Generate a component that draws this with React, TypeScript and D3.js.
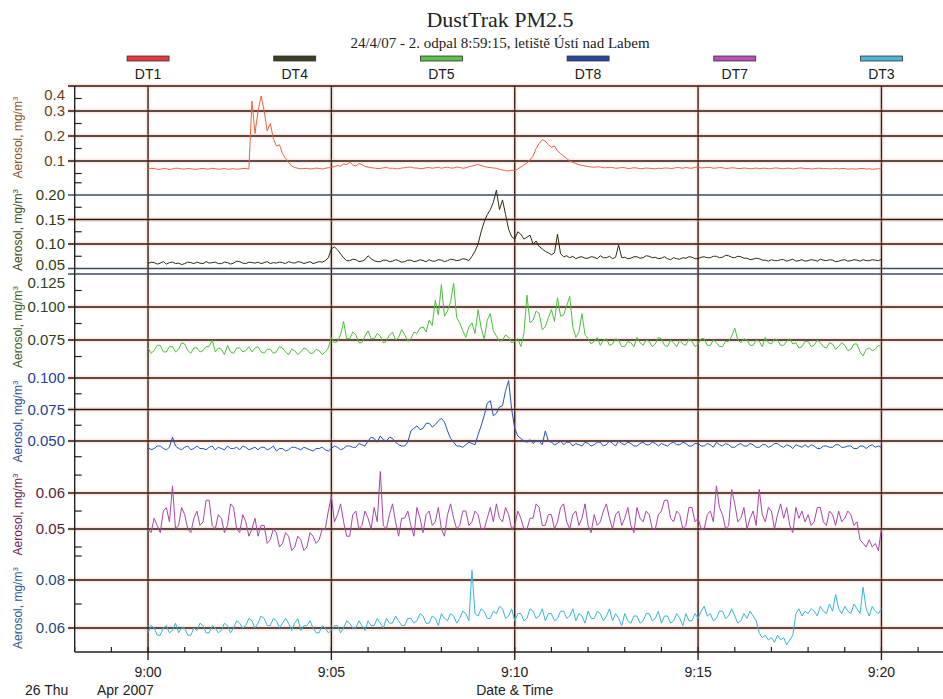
import React from "react";
import * as d3 from "d3";

const WIDTH = 943;
const HEIGHT = 699;

// DustTrak readings, one value every 5 s from 9:00:00 to 9:20:00 (mg/m3),
// one row per minute, last value is 9:20:00
const START = new Date(2007, 3, 26, 9, 0, 0);
const STEP_MS = 5000;

const dt1 = [
  0.068, 0.071, 0.070, 0.067, 0.067, 0.070, 0.069, 0.066, 0.068, 0.071, 0.071, 0.068,
  0.068, 0.070, 0.069, 0.067, 0.067, 0.069, 0.070, 0.068, 0.068, 0.071, 0.069, 0.067,
  0.068, 0.070, 0.067, 0.068, 0.069, 0.067, 0.068, 0.070, 0.070, 0.068, 0.34, 0.21,
  0.30, 0.36, 0.30, 0.22, 0.25, 0.19, 0.16, 0.165, 0.13, 0.11, 0.095, 0.08,
  0.074, 0.071, 0.069, 0.070, 0.071, 0.068, 0.069, 0.072, 0.070, 0.068, 0.071, 0.073,
  0.074, 0.078, 0.082, 0.079, 0.088, 0.085, 0.096, 0.084, 0.080, 0.090, 0.086, 0.078,
  0.076, 0.073, 0.072, 0.070, 0.070, 0.073, 0.074, 0.071, 0.071, 0.069, 0.069, 0.072,
  0.073, 0.075, 0.076, 0.072, 0.072, 0.069, 0.070, 0.073, 0.074, 0.071, 0.073, 0.075,
  0.071, 0.074, 0.075, 0.072, 0.072, 0.076, 0.074, 0.071, 0.073, 0.077, 0.080, 0.083,
  0.086, 0.082, 0.078, 0.075, 0.074, 0.072, 0.071, 0.067, 0.064, 0.062, 0.060, 0.063,
  0.062, 0.068, 0.076, 0.085, 0.092, 0.105, 0.12, 0.15, 0.17, 0.185, 0.18, 0.165,
  0.155, 0.16, 0.14, 0.13, 0.12, 0.11, 0.10, 0.095, 0.09, 0.085, 0.082, 0.080,
  0.078, 0.076, 0.075, 0.077, 0.076, 0.073, 0.073, 0.075, 0.074, 0.071, 0.072, 0.074,
  0.073, 0.070, 0.071, 0.073, 0.072, 0.069, 0.070, 0.072, 0.071, 0.070, 0.069, 0.071,
  0.070, 0.072, 0.072, 0.070, 0.071, 0.074, 0.073, 0.071, 0.074, 0.072, 0.071, 0.075,
  0.076, 0.072, 0.073, 0.075, 0.074, 0.071, 0.072, 0.074, 0.073, 0.070, 0.071, 0.073,
  0.072, 0.070, 0.070, 0.072, 0.071, 0.069, 0.070, 0.072, 0.069, 0.071, 0.071, 0.069,
  0.070, 0.072, 0.072, 0.070, 0.069, 0.071, 0.071, 0.068, 0.070, 0.072, 0.072, 0.069,
  0.070, 0.068, 0.069, 0.071, 0.071, 0.069, 0.070, 0.068, 0.069, 0.071, 0.068, 0.070,
  0.070, 0.067, 0.069, 0.068, 0.068, 0.070, 0.070, 0.068, 0.069, 0.067, 0.068, 0.069,
  0.068,
];

const dt4 = [
  0.060, 0.063, 0.062, 0.059, 0.061, 0.064, 0.059, 0.062, 0.063, 0.060, 0.061, 0.058,
  0.060, 0.063, 0.062, 0.060, 0.063, 0.061, 0.060, 0.064, 0.061, 0.062, 0.063, 0.060,
  0.060, 0.063, 0.062, 0.059, 0.061, 0.065, 0.064, 0.061, 0.060, 0.063, 0.062, 0.061,
  0.063, 0.060, 0.062, 0.064, 0.060, 0.062, 0.061, 0.063, 0.062, 0.060, 0.064, 0.062,
  0.061, 0.064, 0.063, 0.060, 0.062, 0.064, 0.060, 0.062, 0.064, 0.063, 0.066, 0.072,
  0.090, 0.094, 0.088, 0.080, 0.072, 0.066, 0.066, 0.069, 0.068, 0.064, 0.065, 0.068,
  0.076, 0.070, 0.066, 0.064, 0.064, 0.067, 0.067, 0.064, 0.065, 0.068, 0.066, 0.063,
  0.064, 0.067, 0.067, 0.064, 0.065, 0.068, 0.066, 0.064, 0.068, 0.065, 0.065, 0.068,
  0.067, 0.064, 0.066, 0.069, 0.068, 0.066, 0.067, 0.070, 0.069, 0.066, 0.075, 0.085,
  0.10, 0.125, 0.145, 0.16, 0.17, 0.185, 0.21, 0.17, 0.19, 0.16, 0.13, 0.115,
  0.11, 0.125, 0.12, 0.11, 0.114, 0.118, 0.10, 0.106, 0.095, 0.09, 0.085, 0.082,
  0.078, 0.082, 0.12, 0.080, 0.074, 0.076, 0.072, 0.075, 0.070, 0.073, 0.074, 0.071,
  0.071, 0.074, 0.073, 0.070, 0.076, 0.072, 0.072, 0.075, 0.070, 0.073, 0.098, 0.072,
  0.073, 0.070, 0.071, 0.074, 0.074, 0.071, 0.072, 0.076, 0.075, 0.072, 0.073, 0.070,
  0.071, 0.074, 0.070, 0.068, 0.072, 0.070, 0.069, 0.072, 0.071, 0.074, 0.073, 0.070,
  0.070, 0.073, 0.074, 0.072, 0.072, 0.075, 0.075, 0.072, 0.073, 0.077, 0.076, 0.073,
  0.072, 0.075, 0.074, 0.071, 0.071, 0.068, 0.069, 0.071, 0.070, 0.067, 0.067, 0.065,
  0.068, 0.066, 0.066, 0.068, 0.068, 0.065, 0.067, 0.069, 0.065, 0.066, 0.068, 0.065,
  0.066, 0.068, 0.067, 0.065, 0.069, 0.067, 0.066, 0.068, 0.067, 0.064, 0.065, 0.067,
  0.068, 0.065, 0.066, 0.068, 0.067, 0.065, 0.068, 0.066, 0.066, 0.068, 0.067, 0.066,
  0.069,
];

const dt5 = [
  0.069, 0.065, 0.067, 0.071, 0.071, 0.066, 0.066, 0.070, 0.070, 0.066, 0.068, 0.073,
  0.072, 0.067, 0.065, 0.069, 0.069, 0.066, 0.067, 0.070, 0.070, 0.075, 0.066, 0.069,
  0.068, 0.064, 0.071, 0.066, 0.065, 0.069, 0.069, 0.066, 0.067, 0.070, 0.066, 0.069,
  0.070, 0.066, 0.065, 0.068, 0.068, 0.065, 0.066, 0.070, 0.069, 0.066, 0.064, 0.068,
  0.067, 0.064, 0.066, 0.069, 0.068, 0.065, 0.065, 0.068, 0.067, 0.064, 0.066, 0.069,
  0.077, 0.073, 0.074, 0.079, 0.089, 0.076, 0.076, 0.081, 0.079, 0.073, 0.073, 0.078,
  0.082, 0.076, 0.076, 0.080, 0.078, 0.073, 0.074, 0.079, 0.081, 0.075, 0.077, 0.083,
  0.079, 0.074, 0.076, 0.081, 0.080, 0.084, 0.085, 0.081, 0.090, 0.086, 0.105, 0.094,
  0.117, 0.093, 0.097, 0.104, 0.118, 0.092, 0.088, 0.082, 0.077, 0.085, 0.088, 0.080,
  0.098, 0.084, 0.076, 0.090, 0.095, 0.082, 0.078, 0.074, 0.075, 0.079, 0.077, 0.073,
  0.074, 0.076, 0.070, 0.080, 0.109, 0.088, 0.090, 0.097, 0.095, 0.083, 0.085, 0.092,
  0.098, 0.089, 0.107, 0.093, 0.094, 0.101, 0.108, 0.085, 0.077, 0.081, 0.095, 0.079,
  0.076, 0.072, 0.074, 0.077, 0.071, 0.075, 0.076, 0.071, 0.072, 0.076, 0.075, 0.070,
  0.070, 0.074, 0.073, 0.070, 0.077, 0.073, 0.071, 0.075, 0.074, 0.070, 0.072, 0.077,
  0.076, 0.071, 0.070, 0.075, 0.073, 0.070, 0.075, 0.072, 0.071, 0.076, 0.074, 0.070,
  0.072, 0.076, 0.076, 0.071, 0.071, 0.075, 0.073, 0.070, 0.070, 0.074, 0.074, 0.078,
  0.084, 0.075, 0.073, 0.076, 0.075, 0.071, 0.071, 0.075, 0.074, 0.070, 0.077, 0.073,
  0.072, 0.076, 0.075, 0.071, 0.071, 0.074, 0.076, 0.072, 0.073, 0.069, 0.070, 0.074,
  0.074, 0.070, 0.071, 0.075, 0.073, 0.070, 0.069, 0.073, 0.072, 0.068, 0.070, 0.073,
  0.071, 0.067, 0.068, 0.072, 0.072, 0.066, 0.063, 0.068, 0.069, 0.067, 0.068, 0.071,
  0.070,
];

const dt8 = [
  0.045, 0.043, 0.044, 0.046, 0.046, 0.044, 0.043, 0.045, 0.053, 0.046, 0.044, 0.043,
  0.045, 0.046, 0.043, 0.044, 0.046, 0.044, 0.044, 0.043, 0.045, 0.046, 0.043, 0.045,
  0.044, 0.043, 0.046, 0.044, 0.044, 0.045, 0.043, 0.046, 0.045, 0.043, 0.044, 0.045,
  0.043, 0.045, 0.045, 0.043, 0.044, 0.046, 0.042, 0.044, 0.044, 0.042, 0.043, 0.045,
  0.045, 0.044, 0.043, 0.045, 0.044, 0.043, 0.042, 0.044, 0.044, 0.045, 0.043, 0.042,
  0.044, 0.046, 0.045, 0.043, 0.044, 0.046, 0.046, 0.045, 0.045, 0.048, 0.047, 0.046,
  0.050, 0.053, 0.052, 0.049, 0.054, 0.051, 0.050, 0.053, 0.052, 0.049, 0.047, 0.046,
  0.046, 0.049, 0.058, 0.060, 0.062, 0.059, 0.060, 0.064, 0.064, 0.061, 0.063, 0.066,
  0.068, 0.065, 0.058, 0.052, 0.049, 0.046, 0.046, 0.045, 0.047, 0.049, 0.048, 0.047,
  0.055, 0.062, 0.070, 0.080, 0.082, 0.070, 0.072, 0.077, 0.078, 0.090, 0.098, 0.075,
  0.060, 0.054, 0.052, 0.050, 0.049, 0.051, 0.048, 0.050, 0.050, 0.047, 0.058, 0.050,
  0.049, 0.047, 0.048, 0.050, 0.047, 0.049, 0.049, 0.046, 0.048, 0.047, 0.046, 0.049,
  0.048, 0.046, 0.047, 0.049, 0.049, 0.046, 0.047, 0.050, 0.048, 0.046, 0.050, 0.048,
  0.047, 0.049, 0.048, 0.046, 0.046, 0.048, 0.049, 0.047, 0.047, 0.049, 0.048, 0.046,
  0.048, 0.047, 0.046, 0.048, 0.049, 0.047, 0.047, 0.049, 0.048, 0.046, 0.046, 0.048,
  0.048, 0.046, 0.046, 0.048, 0.047, 0.045, 0.049, 0.047, 0.046, 0.048, 0.047, 0.045,
  0.045, 0.047, 0.048, 0.046, 0.046, 0.048, 0.047, 0.045, 0.045, 0.047, 0.047, 0.045,
  0.046, 0.048, 0.048, 0.046, 0.045, 0.047, 0.046, 0.044, 0.047, 0.046, 0.045, 0.047,
  0.045, 0.047, 0.046, 0.044, 0.044, 0.046, 0.046, 0.045, 0.045, 0.047, 0.047, 0.045,
  0.045, 0.046, 0.046, 0.044, 0.044, 0.046, 0.046, 0.044, 0.046, 0.047, 0.045, 0.046,
  0.045,
];

const dt7 = [
  0.050, 0.049, 0.053, 0.051, 0.049, 0.055, 0.056, 0.052, 0.062, 0.050, 0.051, 0.056,
  0.054, 0.050, 0.049, 0.053, 0.055, 0.051, 0.052, 0.058, 0.058, 0.051, 0.050, 0.054,
  0.053, 0.049, 0.051, 0.057, 0.056, 0.050, 0.049, 0.054, 0.052, 0.048, 0.050, 0.053,
  0.048, 0.051, 0.051, 0.046, 0.047, 0.050, 0.049, 0.045, 0.046, 0.049, 0.048, 0.044,
  0.045, 0.048, 0.047, 0.044, 0.045, 0.049, 0.048, 0.046, 0.047, 0.050, 0.050, 0.055,
  0.059, 0.052, 0.054, 0.057, 0.052, 0.048, 0.048, 0.054, 0.055, 0.050, 0.051, 0.055,
  0.053, 0.050, 0.056, 0.052, 0.066, 0.051, 0.050, 0.054, 0.057, 0.052, 0.048, 0.053,
  0.053, 0.055, 0.051, 0.048, 0.056, 0.053, 0.049, 0.054, 0.055, 0.051, 0.052, 0.056,
  0.050, 0.048, 0.054, 0.057, 0.053, 0.050, 0.051, 0.055, 0.055, 0.051, 0.052, 0.055,
  0.054, 0.050, 0.050, 0.053, 0.056, 0.052, 0.057, 0.053, 0.052, 0.056, 0.054, 0.050,
  0.051, 0.055, 0.053, 0.050, 0.050, 0.053, 0.053, 0.057, 0.056, 0.051, 0.051, 0.054,
  0.054, 0.050, 0.052, 0.056, 0.057, 0.052, 0.050, 0.054, 0.055, 0.051, 0.053, 0.057,
  0.051, 0.049, 0.054, 0.051, 0.052, 0.055, 0.057, 0.053, 0.050, 0.054, 0.055, 0.051,
  0.053, 0.056, 0.051, 0.049, 0.056, 0.053, 0.052, 0.055, 0.054, 0.050, 0.050, 0.054,
  0.055, 0.058, 0.058, 0.053, 0.052, 0.055, 0.054, 0.050, 0.051, 0.056, 0.056, 0.052,
  0.053, 0.050, 0.050, 0.054, 0.055, 0.052, 0.062, 0.056, 0.054, 0.050, 0.051, 0.061,
  0.057, 0.052, 0.053, 0.056, 0.050, 0.053, 0.055, 0.051, 0.061, 0.054, 0.052, 0.056,
  0.055, 0.050, 0.054, 0.057, 0.053, 0.056, 0.051, 0.049, 0.056, 0.053, 0.055, 0.052,
  0.054, 0.051, 0.052, 0.056, 0.056, 0.052, 0.051, 0.055, 0.054, 0.051, 0.055, 0.052,
  0.053, 0.055, 0.054, 0.051, 0.052, 0.047, 0.046, 0.045, 0.047, 0.045, 0.046, 0.044,
  0.050,
];

const dt3 = [
  0.058, 0.061, 0.060, 0.057, 0.057, 0.060, 0.061, 0.058, 0.059, 0.062, 0.058, 0.060,
  0.060, 0.057, 0.057, 0.060, 0.059, 0.062, 0.061, 0.058, 0.058, 0.061, 0.060, 0.058,
  0.059, 0.062, 0.061, 0.058, 0.060, 0.063, 0.062, 0.060, 0.061, 0.064, 0.063, 0.060,
  0.062, 0.065, 0.064, 0.061, 0.061, 0.064, 0.063, 0.060, 0.062, 0.064, 0.062, 0.059,
  0.062, 0.064, 0.059, 0.061, 0.061, 0.063, 0.060, 0.058, 0.058, 0.061, 0.060, 0.058,
  0.059, 0.061, 0.061, 0.058, 0.060, 0.063, 0.062, 0.060, 0.060, 0.063, 0.061, 0.059,
  0.063, 0.061, 0.061, 0.064, 0.062, 0.060, 0.064, 0.062, 0.062, 0.065, 0.063, 0.061,
  0.061, 0.064, 0.064, 0.062, 0.063, 0.066, 0.065, 0.062, 0.062, 0.065, 0.064, 0.061,
  0.066, 0.064, 0.063, 0.066, 0.065, 0.062, 0.064, 0.067, 0.066, 0.063, 0.084, 0.066,
  0.065, 0.068, 0.067, 0.064, 0.064, 0.067, 0.066, 0.069, 0.068, 0.064, 0.065, 0.068,
  0.063, 0.066, 0.066, 0.063, 0.064, 0.068, 0.067, 0.064, 0.065, 0.068, 0.063, 0.066,
  0.066, 0.063, 0.064, 0.067, 0.067, 0.064, 0.065, 0.068, 0.063, 0.066, 0.065, 0.062,
  0.067, 0.064, 0.064, 0.067, 0.066, 0.063, 0.065, 0.068, 0.063, 0.066, 0.064, 0.061,
  0.066, 0.063, 0.062, 0.065, 0.065, 0.062, 0.063, 0.066, 0.066, 0.063, 0.064, 0.067,
  0.062, 0.065, 0.065, 0.062, 0.063, 0.066, 0.064, 0.061, 0.066, 0.063, 0.063, 0.066,
  0.064, 0.067, 0.069, 0.065, 0.066, 0.063, 0.064, 0.067, 0.067, 0.064, 0.065, 0.068,
  0.065, 0.062, 0.063, 0.066, 0.064, 0.067, 0.065, 0.063, 0.058, 0.056, 0.057, 0.055,
  0.056, 0.054, 0.057, 0.055, 0.056, 0.053, 0.055, 0.057, 0.066, 0.068, 0.065, 0.067,
  0.066, 0.068, 0.067, 0.065, 0.069, 0.067, 0.066, 0.070, 0.067, 0.074, 0.068, 0.066,
  0.069, 0.067, 0.066, 0.070, 0.068, 0.066, 0.077, 0.068, 0.065, 0.069, 0.067, 0.066,
  0.068,
];

// y-axis ticks per panel
const majorDT1 = [0.1, 0.2, 0.3, 0.4];
const minorDT1 = [0.05, 0.15, 0.25, 0.35];
const majorDT4 = [0.05, 0.1, 0.15, 0.2];
const minorDT4 = [0.075, 0.125, 0.175, 0.225];
const majorDT5 = [0.075, 0.1, 0.125];
const minorDT5 = [0.0625, 0.0875, 0.1125];
const majorDT8 = [0.05, 0.075, 0.1];
const minorDT8 = [0.0375, 0.0625, 0.0875];
const majorDT7 = [0.05, 0.06];
const minorDT7 = [0.045, 0.055, 0.065];
const majorDT3 = [0.06, 0.08];
const minorDT3 = [0.07, 0.09];

const PANELS = [
  { name: "DT1", values: dt1, top: 86, bottom: 181, domain: [0.02, 0.4], major: majorDT1, minor: minorDT1, fmt: ".1f",
    line: "#f2603e", legend: "#e8383a", tick: "#6e3c14", title: "#8c5426", blueGrid: [] as number[] },
  { name: "DT4", values: dt4, top: 181, bottom: 271, domain: [0.0449, 0.2286], major: majorDT4, minor: minorDT4, fmt: ".2f",
    line: "#2c2c14", legend: "#3e3e22", tick: "#2c3c0c", title: "#3c4c14", blueGrid: [0.2, 0.05] },
  { name: "DT5", values: dt5, top: 274, bottom: 372, domain: [0.0508, 0.125], major: majorDT5, minor: minorDT5, fmt: ".3f",
    line: "#4cbf3c", legend: "#5ec048", tick: "#2c4218", title: "#3c5a20", blueGrid: [0.125] },
  { name: "DT8", values: dt8, top: 372, bottom: 463, domain: [0.0325, 0.1048], major: majorDT8, minor: minorDT8, fmt: ".3f",
    line: "#2452c0", legend: "#2848a0", tick: "#2a3c92", title: "#2c4a9c", blueGrid: [] as number[] },
  { name: "DT7", values: dt7, top: 465, bottom: 556, domain: [0.0425, 0.0678], major: majorDT7, minor: minorDT7, fmt: ".2f",
    line: "#a646a8", legend: "#b452b8", tick: "#5a1a3c", title: "#6c2254", blueGrid: [] as number[] },
  { name: "DT3", values: dt3, top: 556, bottom: 652, domain: [0.05, 0.09], major: majorDT3, minor: minorDT3, fmt: ".2f",
    line: "#36b6d8", legend: "#48b8d2", tick: "#1c4a7c", title: "#2c5a9a", blueGrid: [] as number[] },
];

const LEGEND_ORDER = ["DT1", "DT4", "DT5", "DT8", "DT7", "DT3"];

const TITLE = "DustTrak PM2.5";
const SUBTITLE = "24/4/07 - 2. odpal 8:59:15, letiště Ústí nad Labem";

const SANS = "'Liberation Sans', Arial, Helvetica, sans-serif";
const SERIF = "'Liberation Serif', 'Times New Roman', serif";

const AXIS_LEFT = 74.7;
const AXIS_BOTTOM = 652;
const PLOT_TOP = 86;
const PX_PER_MIN = 36.67;

const GRID_CORE = "#2c1610";
const GRID_HALO = "#f2a088";

// keep labels of lines that sit on a panel edge inside the panel
function labelY(y: number, top: number, bottom: number) {
  if (y - top < 3) return top + 9;
  if (bottom - y < 3) return bottom - 6;
  return y;
}

export default function App() {
  const t0 = new Date(2007, 3, 26, 8, 58, 0);
  const t1 = new Date(2007, 3, 26, 9, 22, 0);
  const x = d3.scaleTime().domain([t0, t1]).range([AXIS_LEFT, AXIS_LEFT + 24 * PX_PER_MIN]);

  const minuteTicks = d3.timeMinute.range(t0, d3.timeMinute.offset(t1, 1));
  const majorTimes = minuteTicks.filter((d) => d.getMinutes() % 5 === 0);
  const timeFmt = d3.timeFormat("%-H:%M");

  const legendX = d3
    .scalePoint<string>()
    .domain(LEGEND_ORDER)
    .range([x(new Date(2007, 3, 26, 9, 0, 0)), x(new Date(2007, 3, 26, 9, 20, 0))]);

  const hline = (y: number, key: string, blue: boolean) =>
    blue ? (
      <line key={key} x1={68} x2={WIDTH} y1={y} y2={y} stroke="#3c4c5e" strokeWidth={1.4} />
    ) : (
      <g key={key}>
        <line x1={68} x2={WIDTH} y1={y} y2={y} stroke={GRID_HALO} strokeOpacity={0.25} strokeWidth={5} />
        <line x1={68} x2={WIDTH} y1={y} y2={y} stroke={GRID_CORE} strokeWidth={1.4} />
      </g>
    );

  return (
    <svg
      width={WIDTH}
      height={HEIGHT}
      viewBox={`0 0 ${WIDTH} ${HEIGHT}`}
      style={{ position: "absolute", left: 0, top: 0, background: "#fff" }}
    >
      <rect width={WIDTH} height={HEIGHT} fill="#fff" />

      {/* titles */}
      <text x={500} y={27} textAnchor="middle" fontFamily={SERIF} fontSize={22} fill="#222">
        {TITLE}
      </text>
      <text x={500} y={48} textAnchor="middle" fontFamily={SERIF} fontSize={15} fill="#222">
        {SUBTITLE}
      </text>

      {/* legend */}
      {PANELS.map((p) => {
        const cx = legendX(p.name) as number;
        return (
          <g key={`leg-${p.name}`}>
            <rect x={cx - 21} y={56} width={42} height={5} fill={p.legend} stroke="#333" strokeWidth={0.8} />
            <text x={cx} y={79} textAnchor="middle" fontFamily={SANS} fontSize={14} fill="#1a1a1a">
              {p.name}
            </text>
          </g>
        );
      })}

      {/* vertical grid at 5 minute steps */}
      {majorTimes.map((d) => (
        <g key={`vg-${d.getTime()}`}>
          <line x1={x(d)} x2={x(d)} y1={PLOT_TOP} y2={AXIS_BOTTOM} stroke={GRID_HALO} strokeOpacity={0.2} strokeWidth={5} />
          <line x1={x(d)} x2={x(d)} y1={PLOT_TOP} y2={AXIS_BOTTOM + 8} stroke="#2e2018" strokeWidth={1.4} />
        </g>
      ))}

      {/* panels */}
      {PANELS.map((p) => {
        const y = d3.scaleLinear().domain(p.domain).range([p.bottom, p.top]);
        const fmt = d3.format(p.fmt);
        const line = d3
          .line<number>()
          .x((_, i) => x(new Date(START.getTime() + i * STEP_MS)))
          .y((v) => y(v));
        const mid = (p.top + p.bottom) / 2 + 4;
        return (
          <g key={`panel-${p.name}`}>
            {p.major.map((v) => hline(y(v), `hg-${p.name}-${v}`, p.blueGrid.includes(v)))}
            {p.minor.map((v) => (
              <line key={`mt-${p.name}-${v}`} x1={AXIS_LEFT} x2={AXIS_LEFT + 7} y1={y(v)} y2={y(v)} stroke="#222" strokeWidth={1.2} />
            ))}
            {p.major.map((v) => (
              <text
                key={`tl-${p.name}-${v}`}
                x={65}
                y={labelY(y(v), p.top, p.bottom)}
                dy="0.36em"
                textAnchor="end"
                fontFamily={SANS}
                fontSize={15}
                fill={p.tick}
              >
                {fmt(v)}
              </text>
            ))}
            <text
              transform={`translate(22, ${mid}) rotate(-90)`}
              textAnchor="middle"
              fontFamily={SANS}
              fontSize={12}
              fill={p.title}
            >
              Aerosol, mg/m<tspan dy={-4} fontSize={8}>3</tspan>
            </text>
            <path d={line(p.values) ?? ""} fill="none" stroke={p.line} strokeWidth={1} strokeLinejoin="round" />
          </g>
        );
      })}

      {/* axes */}
      <line x1={AXIS_LEFT} x2={AXIS_LEFT} y1={PLOT_TOP} y2={AXIS_BOTTOM} stroke="#222" strokeWidth={1.4} />
      <line x1={AXIS_LEFT} x2={WIDTH} y1={AXIS_BOTTOM} y2={AXIS_BOTTOM} stroke="#222" strokeWidth={1.4} />
      {minuteTicks.map((d) => (
        <line key={`xt-${d.getTime()}`} x1={x(d)} x2={x(d)} y1={AXIS_BOTTOM - 5} y2={AXIS_BOTTOM} stroke="#222" strokeWidth={1.2} />
      ))}
      {majorTimes.map((d) => (
        <text key={`xl-${d.getTime()}`} x={x(d)} y={677} textAnchor="middle" fontFamily={SANS} fontSize={14} fill="#222">
          {timeFmt(d)}
        </text>
      ))}
      <text x={25} y={695} fontFamily={SANS} fontSize={14} fill="#222">26 Thu</text>
      <text x={97} y={695} fontFamily={SANS} fontSize={14} fill="#222">Apr 2007</text>
      <text x={x(new Date(2007, 3, 26, 9, 10, 0))} y={695} textAnchor="middle" fontFamily={SANS} fontSize={14} fill="#222">
        Date &amp; Time
      </text>
    </svg>
  );
}
